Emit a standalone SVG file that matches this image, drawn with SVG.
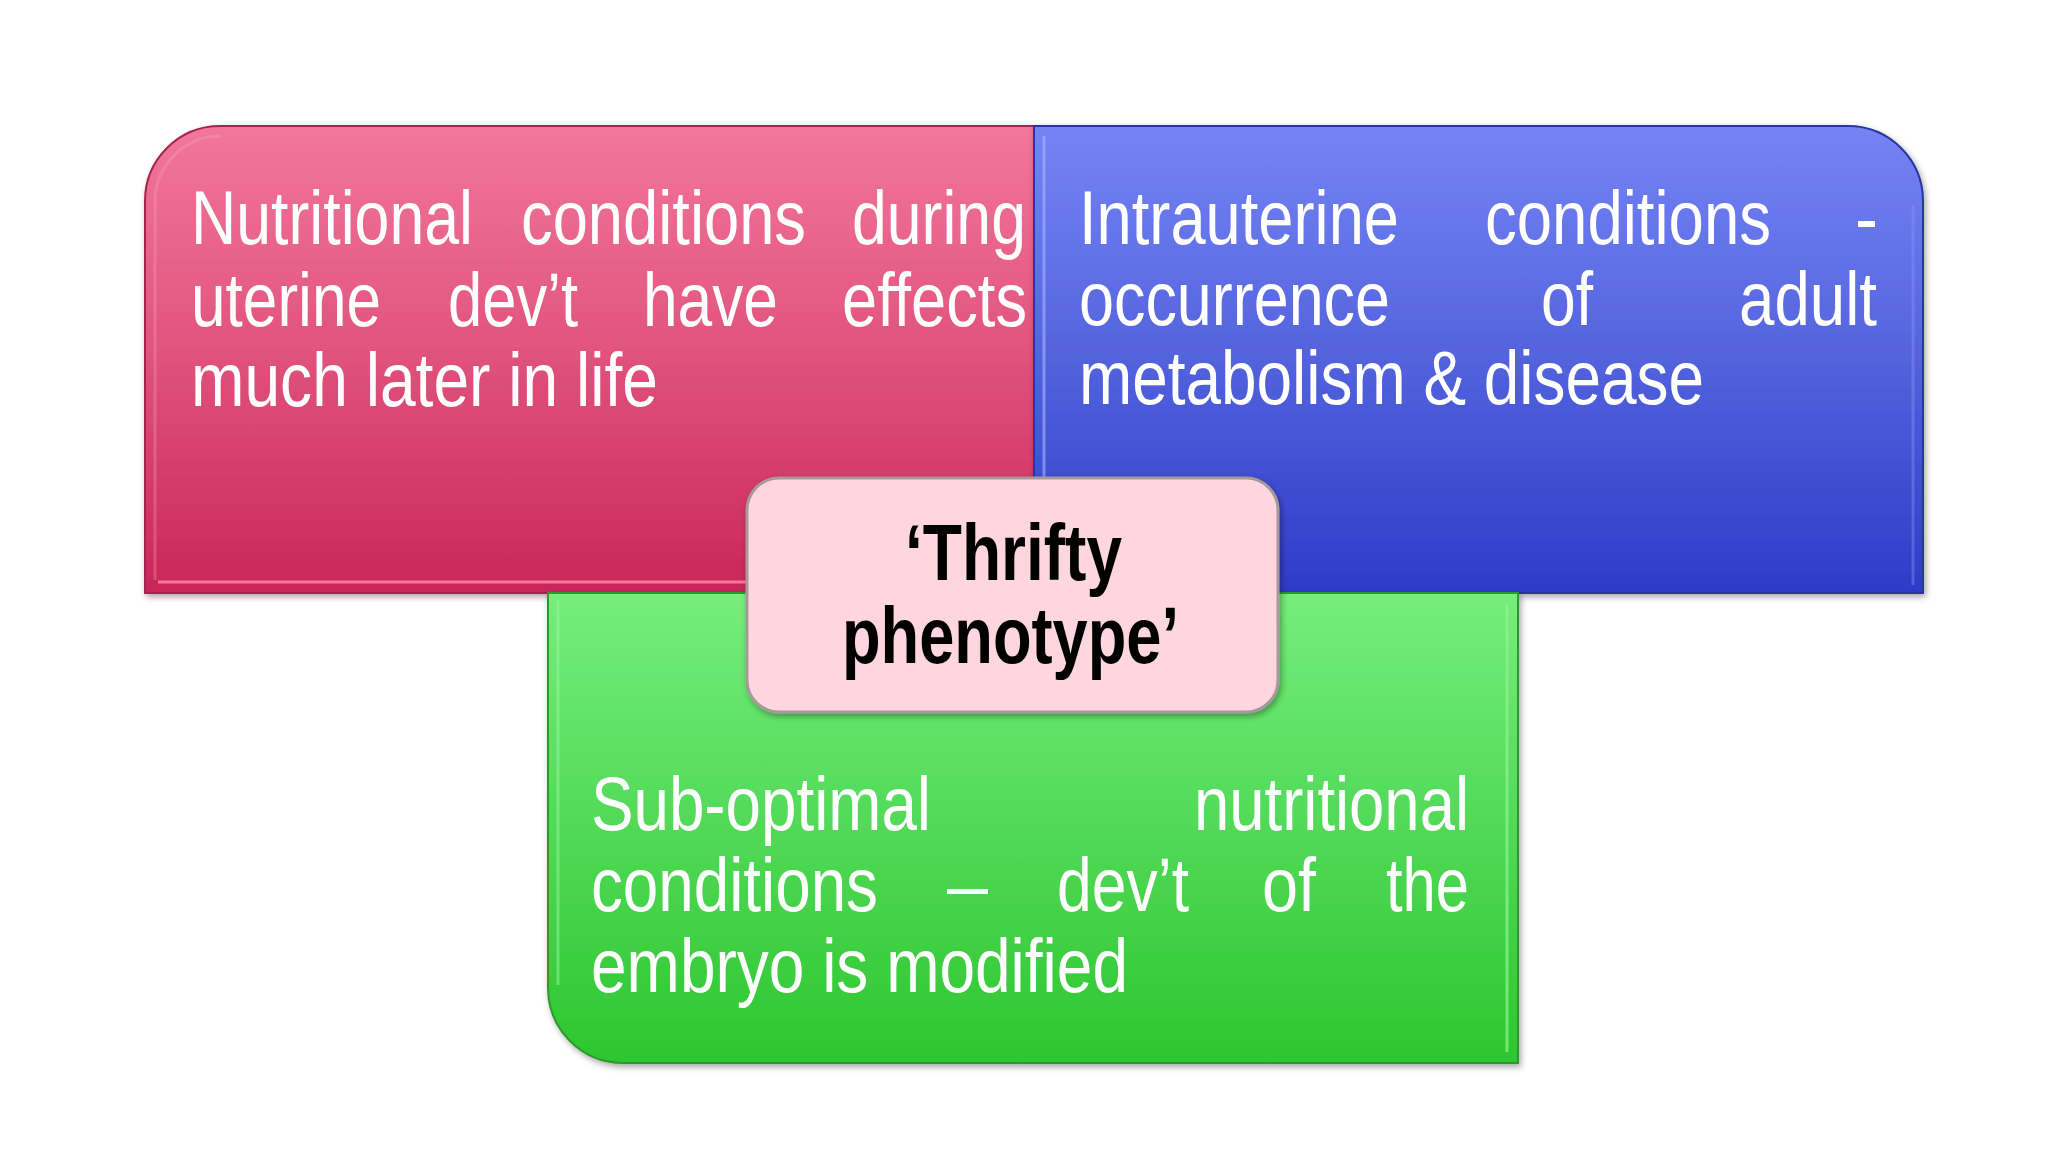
<svg xmlns="http://www.w3.org/2000/svg" width="2048" height="1152" viewBox="0 0 2048 1152">
  <defs>
    <linearGradient id="gRed" x1="0" y1="0" x2="0" y2="1">
      <stop offset="0" stop-color="#F2769D"/>
      <stop offset="0.45" stop-color="#E25680"/>
      <stop offset="1" stop-color="#C9265B"/>
    </linearGradient>
    <linearGradient id="gBlue" x1="0" y1="0" x2="0" y2="1">
      <stop offset="0" stop-color="#7484F5"/>
      <stop offset="0.45" stop-color="#5766DF"/>
      <stop offset="1" stop-color="#2D3BC8"/>
    </linearGradient>
    <linearGradient id="gGreen" x1="0" y1="0" x2="0" y2="1">
      <stop offset="0" stop-color="#76EE7C"/>
      <stop offset="0.45" stop-color="#55DB5B"/>
      <stop offset="1" stop-color="#2DC62F"/>
    </linearGradient>
    <filter id="shadow" x="-5%" y="-5%" width="110%" height="115%">
      <feDropShadow dx="2" dy="3" stdDeviation="3" flood-color="#000" flood-opacity="0.35"/>
    </filter>
  </defs>
  <style>
    .t { font-family: "Liberation Sans", Arial, sans-serif; font-size: 76px; fill: #FFFFFF; }
    .b { font-family: "Liberation Sans", Arial, sans-serif; font-size: 80px; font-weight: bold; fill: #000000; }
    .edge { fill: none; stroke-width: 3; }
  </style>
  <rect width="2048" height="1152" fill="#FFFFFF"/>

  <g id="node-red">
    <path d="M145,201 A75,75 0 0 1 220,126 H1034 V593 H145 Z" fill="url(#gRed)" stroke="#A8234F" stroke-width="2" filter="url(#shadow)"/>
    <path class="edge" d="M155,580 V205 A66,66 0 0 1 221,136" stroke="#F7A5BF" stroke-opacity="0.3"/>
    <path class="edge" d="M158,582 H1030" stroke="#FF7FA6" stroke-opacity="0.9"/>
    <g class="t">
      <text x="191" y="244" textLength="282" lengthAdjust="spacingAndGlyphs">Nutritional</text>
      <text x="521" y="244" textLength="285" lengthAdjust="spacingAndGlyphs">conditions</text>
      <text x="852" y="244" textLength="174" lengthAdjust="spacingAndGlyphs">during</text>
      <text x="191" y="326" textLength="190" lengthAdjust="spacingAndGlyphs">uterine</text>
      <text x="448" y="326" textLength="130" lengthAdjust="spacingAndGlyphs">dev’t</text>
      <text x="643" y="326" textLength="135" lengthAdjust="spacingAndGlyphs">have</text>
      <text x="842" y="326" textLength="185" lengthAdjust="spacingAndGlyphs">effects</text>
      <text x="191" y="406" textLength="467" lengthAdjust="spacingAndGlyphs">much later in life</text>
    </g>
  </g>

  <g id="node-blue">
    <path d="M1034,126 H1848 A75,75 0 0 1 1923,201 V593 H1034 Z" fill="url(#gBlue)" stroke="#2A349F" stroke-width="2" filter="url(#shadow)"/>
    <path class="edge" d="M1044,136 V585" stroke="#A9B4FF" stroke-opacity="0.6"/>
    <path class="edge" d="M1913,205 V585" stroke="#8A96F5" stroke-opacity="0.4"/>
    <g class="t">
      <text x="1079" y="244" textLength="320" lengthAdjust="spacingAndGlyphs">Intrauterine</text>
      <text x="1485" y="244" textLength="286" lengthAdjust="spacingAndGlyphs">conditions</text>
      <text x="1855" y="244" textLength="23" lengthAdjust="spacingAndGlyphs">-</text>
      <text x="1079" y="325" textLength="311" lengthAdjust="spacingAndGlyphs">occurrence</text>
      <text x="1541" y="325" textLength="52" lengthAdjust="spacingAndGlyphs">of</text>
      <text x="1739" y="325" textLength="138" lengthAdjust="spacingAndGlyphs">adult</text>
      <text x="1079" y="404" textLength="625" lengthAdjust="spacingAndGlyphs">metabolism &amp; disease</text>
    </g>
  </g>

  <g id="node-green">
    <path d="M548,593 H1518 V1063 H623 A75,75 0 0 1 548,988 Z" fill="url(#gGreen)" stroke="#2A9A2C" stroke-width="2" filter="url(#shadow)"/>
    <path class="edge" d="M558,600 V985" stroke="#9CF5A0" stroke-opacity="0.5"/>
    <path class="edge" d="M1507,605 V1052" stroke="#8EF492" stroke-opacity="0.7"/>
    <g class="t">
      <text x="591" y="830" textLength="340" lengthAdjust="spacingAndGlyphs">Sub-optimal</text>
      <text x="1194" y="830" textLength="275" lengthAdjust="spacingAndGlyphs">nutritional</text>
      <text x="591" y="911" textLength="287" lengthAdjust="spacingAndGlyphs">conditions</text>
      <text x="947" y="911" textLength="41" lengthAdjust="spacingAndGlyphs">–</text>
      <text x="1057" y="911" textLength="132" lengthAdjust="spacingAndGlyphs">dev’t</text>
      <text x="1262" y="911" textLength="54" lengthAdjust="spacingAndGlyphs">of</text>
      <text x="1386" y="911" textLength="83" lengthAdjust="spacingAndGlyphs">the</text>
      <text x="591" y="992" textLength="537" lengthAdjust="spacingAndGlyphs">embryo is modified</text>
    </g>
  </g>

  <g id="node-center">
    <rect x="747" y="478" width="531" height="234" rx="32" ry="32" fill="#FDD6E0" stroke="#A8989C" stroke-width="3" filter="url(#shadow)"/>
    <g class="b">
      <text x="905" y="580" textLength="217" lengthAdjust="spacingAndGlyphs">‘Thrifty</text>
      <text x="842" y="663" textLength="337" lengthAdjust="spacingAndGlyphs">phenotype’</text>
    </g>
  </g>
</svg>
